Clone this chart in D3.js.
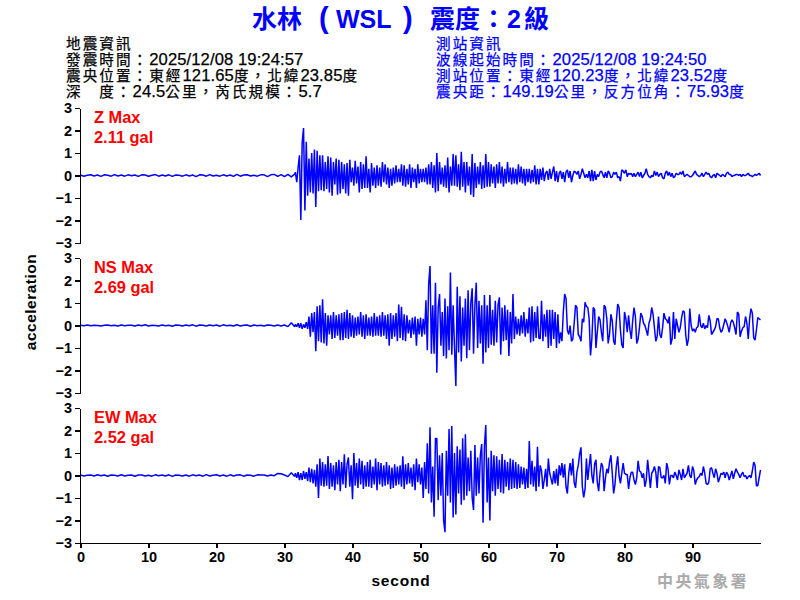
<!DOCTYPE html>
<html><head><meta charset="utf-8">
<script src="https://cdn.jsdelivr.net/npm/d3@7"></script>
<style>
html,body{margin:0;padding:0;background:#fff}
svg{display:block}
text{font-family:"Liberation Sans","Noto Sans CJK TC",sans-serif}
.axis text{font-size:14.5px;font-weight:bold;fill:#000}
.axis line,.axis path{stroke:#000;stroke-width:1.2;shape-rendering:crispEdges}
</style></head><body>
<svg id="c" width="800" height="600"></svg>
<script>
const seconds = [0,10,20,30,40,50,60,70,80,90];
const accelTicks = [-3,-2,-1,0,1,2,3];
const leftInfo = ["地震資訊","發震時間：2025/12/08 19:24:57","震央位置：東經121.65度，北緯23.85度","深　度：24.5公里，芮氏規模：5.7"];
const rightInfo = ["測站資訊","波線起始時間：2025/12/08 19:24:50","測站位置：東經120.23度，北緯23.52度","震央距：149.19公里，反方位角：75.93度"];
const channelNames = ["Z Max","NS Max","EW Max"];
const channelPeaks = ["2.11 gal","2.69 gal","2.52 gal"];

// first 32 s, one reading each 0.5 s
const zPre = [0.02,-0.03,0.01,0.03,-0.02,0.02,-0.04,0.03,0.01,-0.03,0.04,-0.02,0.02,-0.03,0.03,-0.01,0.02,-0.04,0.03,0.02,-0.03,0.01,0.04,-0.03,0.02,-0.02,0.03,-0.04,0.02,0.01,-0.03,0.03,-0.02,0.02,-0.05,0.03,0.02,-0.03,0.04,-0.02,0.01,-0.03,0.03,-0.02,0.02,-0.04,0.05,-0.03,0.02,0.03,-0.02,0.01,-0.03,0.03,0.03,-0.05,0.03,0.05,-0.04,0.04,-0.05,0.05,-0.06,0.06];
const nsPre = [0.01,-0.01,0.02,-0.01,0.01,0.0,-0.02,0.01,0.02,-0.01,0.01,-0.02,0.02,-0.01,0.01,0.01,-0.02,0.02,-0.01,0.03,-0.02,0.01,0.0,-0.02,0.02,-0.01,0.01,-0.03,0.02,0.01,-0.02,0.02,-0.01,0.03,-0.03,0.02,0.01,-0.02,0.02,-0.01,0.02,-0.03,0.03,-0.01,0.01,-0.02,0.03,-0.02,0.01,0.02,-0.03,0.02,-0.01,0.01,-0.02,0.02,0.01,-0.02,0.02,-0.02,0.02,-0.05,0.12,-0.06];
const ewPre = [0.02,-0.02,0.01,0.02,-0.02,0.03,-0.01,0.02,-0.03,0.02,0.01,-0.02,0.03,-0.02,0.01,0.02,-0.03,0.02,0.02,-0.02,0.01,-0.03,0.03,-0.01,0.02,-0.02,0.03,-0.04,0.02,0.01,-0.02,0.02,-0.03,0.03,-0.01,0.02,-0.03,0.04,-0.02,0.01,0.03,-0.02,0.02,-0.03,0.03,-0.02,0.02,0.03,-0.03,0.02,0.01,-0.03,0.03,0.02,0.02,-0.02,0.02,-0.01,0.09,0.08,0.02,-0.05,0.12,-0.04];

// from 31.6 s on, one reading each 0.2 s
const zEvent = [
0.15,-0.3,0.35,0.9,-1.98,1.45,2.11,-1.55,1.5,-0.9,0.75,-0.75,1.0,-0.8,1.15,-1.4,1.1,-0.7,0.9,-0.65,
0.9,-0.7,0.6,-0.6,0.85,-0.75,0.8,-0.9,0.6,-0.4,0.75,-0.85,0.7,-0.8,0.6,-0.6,0.5,-0.8,0.55,-0.9,
0.7,-0.3,0.35,-0.45,0.65,-0.35,0.4,-0.75,0.6,-0.6,0.5,-0.55,0.85,-0.55,0.3,-0.75,0.55,-0.45,0.35,-0.55,
0.45,-0.45,0.35,-0.5,0.6,-0.3,0.5,-0.4,0.35,-0.55,0.3,-0.45,0.35,-0.35,0.45,-0.3,0.3,-0.3,0.5,-0.45,
0.45,-0.5,0.3,-0.4,0.5,-0.55,0.35,-0.3,0.3,-0.55,0.5,-0.35,0.3,-0.3,0.3,-0.3,0.35,-0.4,0.5,-0.4,
0.6,-0.55,0.45,-0.75,1.0,-0.7,0.6,-0.4,0.35,-0.5,0.45,-0.55,0.8,-0.75,0.4,-0.45,0.95,-0.45,0.9,-0.5,
0.5,-0.65,1.05,-0.5,0.6,-0.75,0.6,-0.45,0.4,-0.85,0.95,-0.95,0.55,-0.55,0.4,-0.4,0.6,-0.6,0.45,-0.55,
0.95,-0.5,0.6,-0.5,0.5,-0.35,0.4,-0.55,0.5,-0.35,0.6,-0.35,0.4,-0.5,0.3,-0.35,0.6,-0.3,0.35,-0.4,
0.35,-0.35,0.3,-0.4,0.5,-0.3,0.4,-0.35,0.3,-0.45,0.3,-0.3,0.3,-0.35,0.25,-0.3,0.45,-0.4,0.3,-0.4,
0.3,-0.2,0.35,-0.25,0.1,0.2,-0.2,0.3,-0.15,0.15,0.4,-0.25,0.2,-0.3,0.1,0.2,-0.15,0.15,-0.3,0.15,
0.25,-0.1,0.2,-0.3,0.0,0.2,0.15,0.05,0.2,-0.15,0.05,0.3,0.1,-0.1,0.05,-0.1,0.2,-0.25,0.25,-0.25,
0.2,-0.2,0.05,-0.05,0.15,0.2,0.05,-0.1,0.15,-0.1,0.2,0.1,-0.1,-0.05,0.15,0.05,0.15,-0.1,-0.05,-0.25,
0.25,0.2,0.1,0.25,-0.05,0.1,0.05,0.1,-0.05,0.1,-0.05,0.05,0.15,-0.05,0.15,-0.1,0.0,0.1,0.3,0.05,
-0.05,-0.1,0.0,-0.05,0.2,0.0,0.15,-0.05,0.05,0.1,-0.1,-0.15,0.1,0.2,0.0,0.15,-0.05,0.1,-0.1,-0.05,
0.1,0.05,0.05,0.15,0.05,0.2,-0.05,0.0,0.05,0.0,-0.05,-0.05,0.0,0.1,0.2,0.05,0.0,-0.05,0.0,0.1,
-0.05,0.05,0.15,0.05,0.1,-0.05,-0.1,0.0,0.05,-0.1,0.1,0.05,0.0,-0.05,0.05,0.0,-0.05,0.1,0.15,0.05,
0.05,-0.05,0.0,0.0,0.05,0.05,0.0,0.05,-0.05,0.05,0.0,0.0,0.05,0.1,0.0,0.0,-0.05,0.0,0.05,0.0,
0.05,0.1,0.0];
const nsEvent = [
0.05,-0.05,0.1,-0.1,0.1,-0.15,0.05,-0.1,0.15,-0.15,0.4,-0.5,0.55,-0.3,0.6,-1.14,0.85,-0.7,0.9,-0.75,
1.17,-0.8,0.55,-0.9,0.45,-0.4,0.45,-0.6,0.6,-0.55,0.45,-0.45,0.5,-0.65,0.55,-0.65,0.6,-0.55,0.7,-0.6,
0.55,-0.5,0.45,-0.55,0.35,-0.45,0.4,-0.4,0.6,-0.5,0.45,-0.6,0.5,-0.45,0.35,-0.45,0.4,-0.5,0.55,-0.45,
0.4,-0.45,0.45,-0.5,0.6,-0.45,0.45,-0.6,0.5,-0.9,0.55,-0.6,0.45,-0.5,0.55,-0.7,0.93,-0.55,0.83,-0.65,
0.5,-0.7,0.45,-0.35,0.25,-0.55,0.35,-0.4,0.4,-0.9,0.3,-0.4,0.35,-0.5,0.3,-0.4,1.12,-1.1,1.84,2.64,
-1.25,0.9,-1.25,1.9,-2.1,0.8,1.4,-0.9,0.6,-1.35,1.2,-1.47,0.85,-1.1,2.36,-1.3,0.9,-1.0,-2.69,1.72,
-1.2,1.3,-1.6,0.8,-0.9,1.2,-1.45,1.57,-1.1,1.0,1.65,-1.25,0.9,1.9,-1.0,1.1,-0.8,0.9,-1.7,1.35,
-1.2,0.9,-1.0,1.35,-0.85,0.7,-0.9,1.1,-0.75,0.9,1.25,-1.3,0.8,-0.7,0.9,-0.65,0.7,-1.36,0.6,-0.8,
1.4,-0.6,0.4,-0.4,0.3,-0.45,0.45,-0.35,0.6,-0.5,0.3,-0.35,0.8,-0.75,0.85,-0.7,0.6,-0.55,0.85,-0.55,
-0.6,1.1,-0.7,0.5,-0.5,0.7,-1.0,0.7,-0.9,0.7,-0.6,0.6,-1.0,0.5,-0.8,-0.3,-0.7,0.6,1.4,1.2,
-0.2,-0.4,0.0,-0.7,-0.6,0.1,0.9,0.8,-0.4,-0.5,-0.7,0.3,0.15,1.03,0.85,0.8,0.3,-1.33,-0.6,0.8,
0.7,-1.0,-0.3,0.4,0.25,-0.3,-0.7,0.9,0.8,0.3,-0.8,-0.4,0.5,0.2,-0.7,-0.85,0.2,0.95,0.8,-0.2,
-0.85,-1.0,0.6,0.3,-0.3,0.45,-0.2,-0.6,0.2,0.8,0.4,-0.8,-0.6,-0.1,0.55,0.4,0.1,0.0,-0.2,-0.45,
0.1,0.3,0.8,0.5,-0.1,-0.7,-0.5,0.4,-0.4,-0.55,-0.1,0.55,0.3,0.25,0.1,0.4,-0.85,-0.6,0.6,-0.6,
0.3,0.0,-0.3,-0.1,0.35,0.65,0.6,-0.4,-0.9,-0.6,0.75,0.0,-0.25,-0.15,-0.3,-0.1,-0.05,0.5,0.0,-0.1,
0.1,-0.15,0.0,-0.1,0.45,0.2,-0.4,-0.3,-0.2,-0.05,0.3,0.3,-0.1,-0.3,-0.2,0.05,0.3,0.15,-0.05,-0.3,
0.1,0.25,0.15,-0.1,-0.4,0.6,0.5,-0.5,-0.25,-0.1,-0.05,0.4,0.1,-0.6,0.3,0.75,0.55,-0.55,-0.65,-0.2,
0.35,0.3,0.25];
const ewEvent = [
0.1,-0.1,0.15,-0.2,0.1,-0.2,0.2,-0.15,0.15,-0.25,0.35,-0.3,0.3,-0.35,0.25,-0.5,0.5,-1.0,0.75,-0.45,
0.6,-0.5,0.5,-0.45,0.87,-0.6,0.55,-0.5,0.45,-0.65,0.6,-0.4,0.7,-0.7,0.6,-0.4,0.94,-0.55,0.5,0.8,
-0.5,0.45,-1.05,1.0,-0.45,0.55,-0.55,0.75,-0.4,0.65,-0.6,0.45,-0.5,0.6,-0.5,0.7,-0.55,0.4,-0.4,0.75,
-0.65,0.6,-0.4,0.55,-0.5,0.45,-0.45,0.6,-0.4,0.45,-0.6,0.35,-0.55,0.5,-0.45,0.4,-0.4,0.45,-0.5,0.85,
-0.6,0.5,-0.4,0.55,-0.35,0.35,-0.5,0.5,-0.65,0.75,-0.3,0.5,-0.4,0.35,-1.0,0.6,-0.6,1.43,-0.8,2.14,
-1.2,0.4,-1.83,1.65,1.65,-1.1,0.9,-0.9,1.0,-2.0,-2.52,1.1,-0.9,2.07,-1.2,2.2,-1.87,1.0,-1.73,1.3,
-0.8,1.15,-1.3,1.65,-1.1,1.83,-0.9,0.8,-0.7,1.1,-1.0,-1.53,1.35,-0.9,0.8,-0.8,0.9,1.4,-2.1,1.3,
2.24,-1.2,0.8,-2.0,1.1,-0.7,0.9,-0.9,0.85,-0.6,0.7,-0.75,0.95,-0.8,0.7,-0.5,0.6,-0.65,0.75,-0.6,
0.7,-0.55,0.6,-0.6,0.5,-0.55,0.4,-0.4,0.35,-0.6,0.3,-0.55,1.53,-0.4,0.65,-0.5,0.4,-0.7,1.28,-0.5,
0.45,0.2,-0.6,-0.2,0.3,-0.5,0.75,0.1,-0.15,-0.4,0.2,-0.35,0.3,-0.45,0.45,0.0,0.55,-0.1,0.5,-0.5,
-0.8,0.1,0.55,0.0,0.75,-0.3,-0.55,0.15,0.45,0.95,1.25,-0.5,-0.97,-0.6,0.75,-0.2,0.4,0.95,0.0,-0.35,
0.5,0.7,-0.3,-0.7,0.1,0.55,0.4,-0.7,-0.1,0.3,0.1,0.6,0.9,0.1,-0.8,-0.4,0.4,0.85,0.0,-0.35,
0.1,0.55,0.1,0.05,0.05,-0.6,-0.1,0.15,0.15,-0.2,-0.4,-0.1,0.65,0.2,0.15,-0.1,0.1,-0.5,-0.2,0.7,
0.1,-0.55,0.1,0.2,0.4,0.15,-0.55,0.4,0.35,-0.1,-0.1,0.0,-0.35,0.55,0.3,-0.4,0.0,0.0,-0.1,0.15,
0.0,-0.2,0.25,0.05,-0.2,0.3,-0.1,0.0,0.1,0.45,0.0,-0.1,0.4,0.2,-0.4,-0.2,-0.1,-0.05,0.1,0.0,
0.4,0.1,-0.35,-0.4,-0.3,0.3,0.35,0.1,-0.1,0.3,0.1,-0.3,-0.1,0.1,0.05,0.15,-0.1,0.15,0.05,-0.2,
0.0,0.2,-0.15,0.1,0.3,0.15,0.05,-0.1,0.05,0.15,-0.05,0.0,-0.15,-0.05,0.0,-0.1,0.2,0.6,0.45,-0.45,
-0.45,-0.1,0.25];

const svg = d3.select("#c");
const BLUE = "#0000ff";
const x = d3.scaleLinear().domain([0,100]).range([80.5,760.5]);
const panels = [
  {pre:zPre, ev:zEvent, top:108},
  {pre:nsPre, ev:nsEvent, top:258},
  {pre:ewPre, ev:ewEvent, top:408}
];
const preStep = 0.5, evStart = 31.6, evStep = 0.2;

panels.forEach((p,k)=>{
  const y = d3.scaleLinear().domain([-3,3]).range([p.top+135,p.top]);
  const g = svg.append("g");
  const pts = p.pre.map((v,i)=>[i*preStep,v]).concat(p.ev.map((v,i)=>[evStart+i*evStep,v]));
  g.append("path").datum(pts)
    .attr("fill","none").attr("stroke",BLUE).attr("stroke-width",1.5)
    .attr("stroke-linejoin","bevel")
    .attr("d",d3.line().x(d=>x(d[0])).y(d=>y(d[1])));
  g.append("g").attr("class","axis").attr("transform","translate(80,0)")
    .call(d3.axisLeft(y).tickValues(accelTicks).tickFormat(d3.format("d")).tickSize(5).tickSizeOuter(0).tickPadding(3));
  g.append("text").attr("x",94).attr("y",p.top+15).attr("fill","#f00").attr("font-size",16.4).attr("font-weight","bold").text(channelNames[k]);
  g.append("text").attr("x",94).attr("y",p.top+35).attr("fill","#f00").attr("font-size",16.4).attr("font-weight","bold").text(channelPeaks[k]);
  if(k===2){
    svg.append("g").attr("class","axis").attr("transform",`translate(0,${p.top+135})`)
      .call(d3.axisBottom(x).tickValues(seconds).tickFormat(d3.format("d")).tickSize(5).tickSizeOuter(0).tickPadding(4));
  }
});

// title
const title = svg.append("text").attr("y",28).attr("fill",BLUE).attr("font-size",25).attr("font-weight","bold");
title.append("tspan").attr("x",252).text("水林");
title.append("tspan").attr("x",319).attr("font-size",29).text("(");
title.append("tspan").attr("x",336).text("WSL");
title.append("tspan").attr("x",403).attr("font-size",29).text(")");
title.append("tspan").attr("x",430).text("震度");
title.append("tspan").attr("x",481).text("：");
title.append("tspan").attr("x",507).text("2");
title.append("tspan").attr("x",524).text("級");

// info blocks: Latin runs and CJK runs are sized apart
[[leftInfo,66,"#000"],[rightInfo,436,BLUE]].forEach(([lines,px,col])=>{
  lines.forEach((t,i)=>{
    const row = svg.append("text").attr("x",px).attr("y",49+i*16)
      .attr("fill",col).attr("stroke",col).attr("stroke-width",0.25);
    t.split(/([\x00-\x7f]+)/).filter(s=>s.length).forEach(s=>{
      const latin = /^[\x00-\x7f]/.test(s);
      row.append("tspan")
        .attr("font-size",latin?16.6:14.6)
        .attr("letter-spacing",latin?0.1:2.05)
        .text(s);
    });
  });
});

svg.append("text").attr("x",401).attr("y",586).attr("text-anchor","middle")
  .attr("font-size",15.5).attr("font-weight","bold").attr("letter-spacing",0.8).text("second");
svg.append("text").attr("transform","translate(36,302) rotate(-90)").attr("text-anchor","middle")
  .attr("font-size",15.5).attr("font-weight","bold").attr("letter-spacing",0.5).text("acceleration");
svg.append("text").attr("x",657).attr("y",587).attr("fill","#aaaaaa")
  .attr("font-size",16).attr("font-weight","bold").attr("letter-spacing",2.4).text("中央氣象署");
</script>
</body></html>
